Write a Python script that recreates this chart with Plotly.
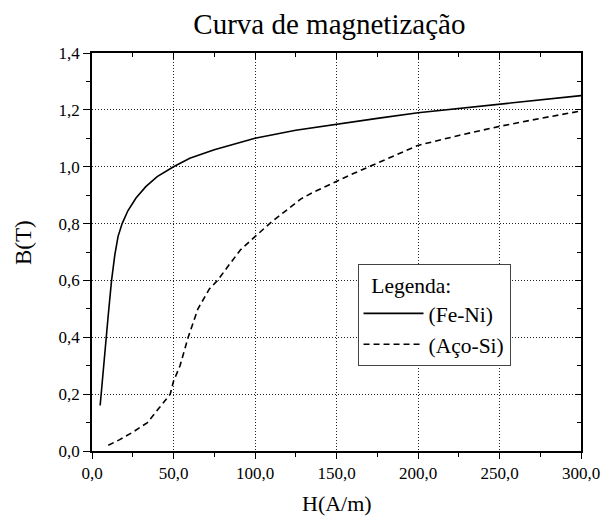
import plotly.graph_objects as go

# Data
h_feni = [5, 6, 8, 10, 12, 14, 16, 18.5, 22, 27, 33, 40, 50, 60, 75, 100,
          125, 150, 175, 200, 225, 250, 275, 300]
b_feni = [0.16, 0.23, 0.36, 0.48, 0.60, 0.69, 0.755, 0.80, 0.845, 0.89, 0.93,
          0.965, 1.0, 1.03, 1.06, 1.10, 1.128, 1.15, 1.17, 1.19, 1.205, 1.22,
          1.236, 1.25]

h_acosi = [10, 17, 25, 34, 41, 48, 50, 54, 59, 65, 72, 77, 84, 91, 100, 110,
           120, 128, 135, 150, 160, 170, 185, 200, 225, 250, 275, 300]
b_acosi = [0.02, 0.04, 0.066, 0.10, 0.15, 0.20, 0.245, 0.30, 0.40, 0.50, 0.57,
           0.60, 0.654, 0.707, 0.754, 0.805, 0.85, 0.886, 0.908, 0.949, 0.975,
           1.0, 1.038, 1.075, 1.11, 1.142, 1.17, 1.196]

series_names = ["(Fe-Ni)", "(Aço-Si)"]
x_ticks = [0, 50, 100, 150, 200, 250, 300]
y_ticks = [0, 0.2, 0.4, 0.6, 0.8, 1.0, 1.2, 1.4]

FONT = "Liberation Serif, Times New Roman, serif"
tick_font = dict(family=FONT, size=17, color="black")

fig = go.Figure()
fig.add_trace(go.Scatter(x=h_feni, y=b_feni, mode="lines", name=series_names[0],
                         line=dict(color="black", width=1.6)))
fig.add_trace(go.Scatter(x=h_acosi, y=b_acosi, mode="lines", name=series_names[1],
                         line=dict(color="black", width=1.6, dash="6px,4px")))

common_x = dict(range=[0, 300], tickvals=x_ticks, automargin=False)
common_y = dict(range=[0, 1.4], tickvals=y_ticks, automargin=False)
grid = dict(showgrid=True, gridcolor="#222", griddash="1px,2px", gridwidth=1)

W, H = 603, 519

fig.update_layout(
    width=W, height=H,
    margin=dict(l=91.5, r=22.3, t=52.5, b=67.5),
    paper_bgcolor="white", plot_bgcolor="white",
    font=dict(family=FONT, color="black", size=17),
    separators=",.",
    title=dict(text="Curva de magnetização", x=0.4855, xanchor="center",
               xref="paper", y=1 - 24 / H, yref="container",
               yanchor="middle", font=dict(size=29, family=FONT, color="black")),
    xaxis=dict(**common_x, **grid, tickformat=".1f", tickfont=tick_font,
               showline=True, linecolor="black",
               linewidth=1.5, ticks="outside", ticklen=6, tickwidth=1.2,
               tickcolor="black", zeroline=False,
               minor=dict(ticks="outside", dtick=25, ticklen=4,
                          tickcolor="black", tickwidth=1.2, showgrid=False)),
    yaxis=dict(**common_y, **grid, tickformat=".1f", tickfont=tick_font,
               showline=True, linecolor="black",
               linewidth=1.5, ticks="outside", ticklen=7, tickwidth=1.2,
               tickcolor="black", zeroline=False,
               minor=dict(ticks="outside", dtick=0.1, ticklen=4,
                          tickcolor="black", tickwidth=1.2, showgrid=False)),
    xaxis2=dict(**common_x, overlaying="x", side="top", showline=True,
                linecolor="black", linewidth=1.5, ticks="inside", ticklen=6,
                tickwidth=1.2, tickcolor="black", showticklabels=False,
                showgrid=False, zeroline=False,
                minor=dict(ticks="inside", dtick=25, ticklen=4,
                           tickcolor="black", tickwidth=1.2)),
    yaxis2=dict(**common_y, overlaying="y", side="right", showline=True,
                linecolor="black", linewidth=1.5, ticks="inside", ticklen=6,
                tickwidth=1.2, tickcolor="black", showticklabels=False,
                showgrid=False, zeroline=False,
                minor=dict(ticks="inside", dtick=0.1, ticklen=4,
                           tickcolor="black", tickwidth=1.2)),
    legend=dict(x=0.543, y=0.47, xanchor="left", yanchor="top",
                bgcolor="white", bordercolor="#444", borderwidth=1,
                font=dict(size=21.5, family=FONT, color="black"),
                title=dict(text="\u00a0\u00a0Legenda:",
                           font=dict(size=21.5, family=FONT, color="black")),
                itemwidth=60, tracegroupgap=0),
    showlegend=True,
    annotations=[
        dict(text="H(A/m)", xref="paper", yref="paper", x=0.5002, y=-0.131,
             xanchor="center", yanchor="middle", showarrow=False,
             font=dict(size=22, family=FONT, color="black")),
        dict(text="B(T)", xref="paper", yref="paper", x=-0.141, y=0.5226,
             xanchor="center", yanchor="middle", textangle=-90,
             showarrow=False, font=dict(size=23, family=FONT, color="black")),
    ],
)

# invisible helper trace so the mirrored top/right axes get drawn
fig.add_trace(go.Scatter(x=h_feni, y=b_feni, xaxis="x2", yaxis="y2",
                         mode="lines", line=dict(width=0), opacity=0,
                         showlegend=False, hoverinfo="skip"))

fig.write_html(
    "out.html",
    config={"displayModeBar": False},
    post_script="document.body.style.margin='0';"
                "document.body.style.overflow='hidden';",
)
